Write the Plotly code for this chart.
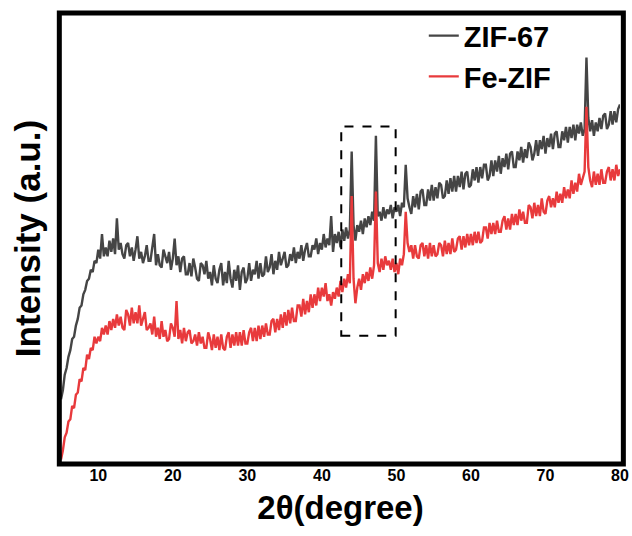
import plotly.graph_objects as go

# 2theta scan, 0.25 degree step from 5 to 80
two_theta = [5 + 0.25 * i for i in range(301)]

# ZIF-67 intensity (a.u.), one row per degree (4 samples each)
zif67 = [
    14, 16, 19.5, 21,
    23.5, 25, 27.5, 28,
    30.5, 32, 34.5, 35,
    37.5, 38.5, 40.5, 41,
    43, 42.5, 45, 44.5,
    47.5, 45.5, 51, 46,
    48, 46, 49.5, 47,
    50, 46.5, 54.5, 47.5,
    49, 46.5, 45.5, 48.5,
    49, 46, 48, 45,
    47.5, 50.5, 45.5, 47,
    44.5, 46, 48.5, 45,
    45, 47.5, 51, 44,
    46.5, 44, 43.5, 47.5,
    46, 44.5, 47, 43,
    45.5, 50, 44, 46,
    42.5, 45.5, 46, 42,
    42, 44.5, 41.5, 45.5,
    43.5, 41, 40.5, 44.5,
    44, 42, 45, 41,
    42.5, 39.5, 44, 41,
    40, 43, 44.5, 39.5,
    42.5, 40, 45, 41,
    39, 43, 40.5, 44,
    38.5, 42.5, 43.5, 40,
    41, 44.5, 40.5, 43,
    42, 45, 41, 44.5,
    41.5, 42, 46, 42.5,
    43.5, 46.5, 42, 45,
    43, 47, 44, 45.5,
    47, 43.5, 44, 46.5,
    45, 48, 44.5, 47,
    45.5, 48.5, 45, 47.5,
    49, 46, 46, 48.5,
    47.5, 50, 46.5, 49,
    47.5, 51, 48, 50,
    48.5, 55, 47, 51,
    49, 51.5, 48, 52,
    49.5, 52.5, 50, 52,
    69.5, 53, 49.5, 53,
    51.5, 54, 51, 54.5,
    52.5, 55, 53, 56,
    54, 73, 55, 56,
    54, 57, 54.5, 56.5,
    55.5, 57.5, 54.5, 57,
    56, 57.5, 55, 58,
    57, 66.5, 59, 57,
    55.5, 59.5, 57, 60,
    56.5, 60.5, 61, 57.5,
    57.5, 61, 58.5, 62,
    58.5, 61.5, 59, 62.5,
    62, 59, 59.5, 63,
    60, 63.5, 60.5, 64,
    60.5, 64, 61.5, 65,
    61, 64.5, 65, 61.5,
    62, 65.5, 63, 66,
    62.5, 66, 63.5, 66.5,
    66.5, 63, 64, 67.5,
    64, 67.5, 65, 68.5,
    64.5, 68, 66, 69,
    65.5, 69, 69.5, 66,
    66, 69.5, 67.5, 70.5,
    67, 70, 68, 71.5,
    70.5, 67.5, 69, 72,
    68.5, 72, 70, 73,
    69, 72.5, 70.5, 73.5,
    70, 73.5, 74, 70.5,
    70.5, 74, 72, 75,
    71.5, 75, 72.5, 75.5,
    72, 75.5, 73.5, 76,
    73, 74.5, 90.5, 77,
    74, 76.5, 73, 76,
    74, 77, 74.5, 77.5,
    78, 74.5, 75.5, 78.5,
    75.5, 78.5, 76, 79,
    80,
]

# Fe-ZIF intensity (a.u.)
fe_zif = [
    0.5, 2.5, 5.5, 6.5,
    9, 9.5, 12.5, 12,
    15, 15.5, 18.5, 18,
    21, 20.5, 24, 23,
    25.5, 25, 28, 26.5,
    28, 27, 30, 28.5,
    30.5, 28.5, 31.5, 29.5,
    32, 30, 33, 30.5,
    32.5, 30, 29.5, 34,
    33, 30.5, 34.5, 31,
    33.5, 31, 35, 30.5,
    32, 33.5, 29.5, 30,
    31, 28.5, 32.5, 28,
    30, 27.5, 31.5, 28,
    29.5, 27, 27.5, 31,
    30, 28, 36, 27.5,
    29.5, 26.5, 30, 27,
    29, 29.5, 26.5, 27,
    28.5, 26, 29, 26.5,
    28, 25.5, 25.5, 29,
    27.5, 25, 28.5, 25.5,
    28, 25, 28.5, 25.5,
    25, 28, 29, 25.5,
    28.5, 26, 29, 26,
    29, 26, 29.5, 26.5,
    26.5, 29, 30, 27,
    30, 27, 30.5, 27.5,
    30.5, 28, 31, 28.5,
    28.5, 31.5, 32, 29,
    32, 29.5, 33, 30,
    33.5, 30.5, 34, 31,
    34.5, 31.5, 31.5, 35,
    35, 32.5, 36.5, 33,
    36, 33.5, 37.5, 34.5,
    37.5, 35, 39, 36,
    39, 37, 40, 36,
    37.5, 35, 38, 36.5,
    39, 37, 40.5, 38,
    41, 39, 42, 40,
    59.5, 41, 35.5, 39,
    41, 38.5, 42, 40,
    42.5, 40.5, 43.5, 41,
    44, 60.5, 44.5, 42.5,
    45.5, 43, 46, 44,
    45, 43, 45.5, 42.5,
    44.5, 42, 45.5, 44,
    46.5, 56, 49, 47,
    48.5, 45.5, 48.5, 46,
    45.5, 48.5, 49, 46,
    48.5, 45.5, 49, 46,
    48.5, 46, 46.5, 49,
    48.5, 46, 49.5, 46.5,
    49, 46.5, 50, 47,
    47.5, 50, 50.5, 47.5,
    50.5, 48, 51, 48.5,
    51, 48.5, 51.5, 49,
    51.5, 49, 49.5, 52.5,
    52.5, 50, 53.5, 51,
    53.5, 51, 54, 51.5,
    51.5, 54, 55, 52,
    54.5, 52, 55.5, 53,
    55.5, 53, 56.5, 54,
    56, 53.5, 53.5, 57.5,
    57, 54.5, 58, 55,
    57.5, 55, 59, 56,
    55.5, 58.5, 59.5, 57,
    59, 57, 60.5, 58,
    60, 58, 61.5, 59,
    61, 59, 63, 60,
    62.5, 60.5, 64.5, 62,
    63.5, 65, 79.5, 66,
    63, 61.5, 65, 62,
    64.5, 62, 65.5, 62.5,
    62.5, 65, 66, 63,
    65.5, 63, 66.5, 64,
    65.5,
]

x_ticks = [10, 20, 30, 40, 50, 60, 70, 80]

fig = go.Figure()
fig.add_trace(go.Scatter(x=two_theta, y=zif67, mode="lines", name="ZIF-67",
                         line=dict(color="#454545", width=2.4)))
fig.add_trace(go.Scatter(x=two_theta, y=fe_zif, mode="lines", name="Fe-ZIF",
                         line=dict(color="#e83a3c", width=2.4)))

# dashed box round the 44 / 47 degree peaks
fig.add_shape(type="rect", x0=42.6, x1=49.9, y0=28.2, y1=75.1,
              line=dict(color="black", width=2, dash="dash"))
# heavy frame, a touch wider than the 5-80 data range like the original
fig.add_shape(type="rect", xref="paper", yref="paper", x0=-0.003, x1=1.006, y0=0, y1=1,
              line=dict(color="black", width=5), layer="above")

fig.update_layout(
    width=632, height=536,
    margin=dict(l=61, r=12, t=10, b=72),
    plot_bgcolor="white", paper_bgcolor="white",
    font=dict(family="Arial", color="black"),
    legend=dict(x=0.649, y=1.006, xanchor="left", yanchor="top",
                font=dict(size=29, family="Arial", weight="bold", color="black"),
                bgcolor="rgba(0,0,0,0)", tracegroupgap=0),
    showlegend=True,
)
fig.update_xaxes(range=[5, 80], tickvals=x_ticks, showgrid=False, zeroline=False,
                 showline=False, automargin=False, ticklabeloverflow="allow",
                 ticks="", tickfont=dict(size=16, family="Arial", weight="bold"),
                 title=dict(text="<b>2θ(degree)</b>", font=dict(size=33), standoff=12))
fig.update_yaxes(range=[-0.5, 100.5], showticklabels=False, showgrid=False, zeroline=False,
                 showline=False, ticks="", automargin=False,
                 title=dict(text="<b>Intensity (a.u.)</b>", font=dict(size=35), standoff=8))

# drop the default 8px page margin so the figure fills the window exactly
fig.write_html("out.html", config={"displayModeBar": False},
               post_script="document.body.style.margin='0';")
